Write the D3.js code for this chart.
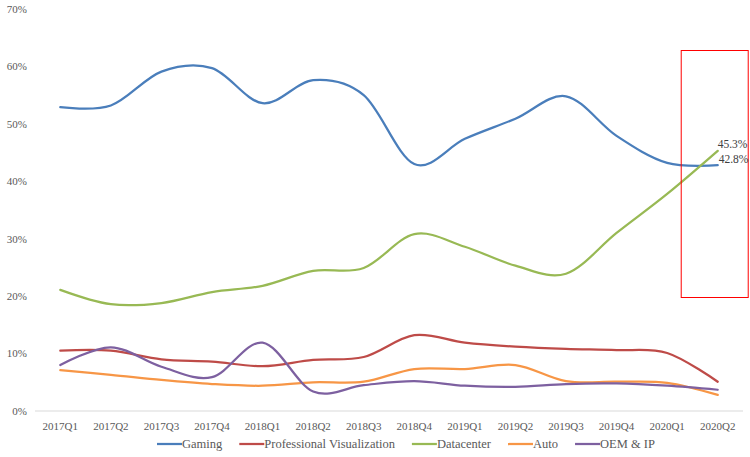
<!DOCTYPE html>
<html>
<head>
<meta charset="utf-8">
<script src="https://cdn.jsdelivr.net/npm/d3@7"></script>
<style>
  body { margin: 0; background: #fff; }
  text { font-family: "Liberation Serif", "DejaVu Serif", serif; }
</style>
</head>
<body>
<div id="chart"></div>
<script>
// Chart size
const width = 750;
const height = 457;
const margin = { top: 9, right: 7, bottom: 46, left: 35 };
const font = "'Liberation Serif', 'DejaVu Serif', serif";

// Data (share of revenue, %)
const quarters = ["2017Q1", "2017Q2", "2017Q3", "2017Q4", "2018Q1", "2018Q2", "2018Q3",
    "2018Q4", "2019Q1", "2019Q2", "2019Q3", "2019Q4", "2020Q1", "2020Q2"];
const gaming = [52.9, 53.2, 59.1, 59.7, 53.6, 57.6, 55.0, 43.0, 47.4, 50.9, 54.8, 47.9, 43.2, 42.8];
const proViz = [10.5, 10.5, 9.0, 8.6, 7.8, 8.9, 9.4, 13.2, 11.9, 11.2, 10.8, 10.6, 10.1, 5.1];
const datacenter = [21.1, 18.6, 18.8, 20.7, 21.8, 24.4, 24.9, 30.8, 28.6, 25.3, 23.9, 31.0, 37.8, 45.3];
const auto = [7.1, 6.3, 5.4, 4.7, 4.4, 5.0, 5.1, 7.3, 7.3, 8.0, 5.2, 5.1, 4.9, 2.8];
const oem = [8.0, 11.1, 7.7, 5.9, 11.9, 3.4, 4.5, 5.2, 4.4, 4.2, 4.7, 4.8, 4.4, 3.7];
const yTicks = [0, 10, 20, 30, 40, 50, 60, 70];

const series = [
    { name: "Gaming", values: gaming, color: "#4A7EBB" },
    { name: "Professional Visualization", values: proViz, color: "#BE4B48" },
    { name: "Datacenter", values: datacenter, color: "#98B954" },
    { name: "Auto", values: auto, color: "#F79646" },
    { name: "OEM & IP", values: oem, color: "#7D60A0" }
];

const svg = d3.select("#chart")
    .append("svg")
    .attr("width", width)
    .attr("height", height)
    .attr("font-family", font);

const x = d3.scaleBand()
    .domain(quarters)
    .range([margin.left, width - margin.right]);

const y = d3.scaleLinear()
    .domain([0, 70])
    .range([height - margin.bottom, margin.top]);

// Y axis labels (no axis line, no grid)
svg.append("g")
    .selectAll("text")
    .data(yTicks)
    .join("text")
    .attr("x", 27)
    .attr("y", d => y(d))
    .attr("dy", "0.35em")
    .attr("text-anchor", "end")
    .attr("font-family", font)
    .attr("font-size", "11px")
    .attr("fill", "#595959")
    .text(d => d + "%");

// X axis baseline
svg.append("line")
    .attr("x1", margin.left)
    .attr("x2", width - margin.right)
    .attr("y1", y(0))
    .attr("y2", y(0))
    .attr("stroke", "#D9D9D9")
    .attr("stroke-width", 1);

// X axis labels
svg.append("g")
    .selectAll("text")
    .data(quarters)
    .join("text")
    .attr("x", d => x(d) + x.bandwidth() / 2)
    .attr("y", y(0) + 19)
    .attr("text-anchor", "middle")
    .attr("font-family", font)
    .attr("font-size", "11px")
    .attr("fill", "#595959")
    .text(d => d);

// Smoothed lines like Excel
const line = d3.line()
    .x((d, i) => x(quarters[i]) + x.bandwidth() / 2)
    .y(d => y(d))
    .curve(d3.curveCardinal.tension(0));

svg.append("g")
    .selectAll("path")
    .data(series)
    .join("path")
    .attr("d", d => line(d.values))
    .attr("fill", "none")
    .attr("stroke", d => d.color)
    .attr("stroke-width", 2.25)
    .attr("stroke-linecap", "round");

// Highlight box round the last quarter
const last = quarters[quarters.length - 1];
const cx = x(last) + x.bandwidth() / 2;
svg.append("rect")
    .attr("x", cx - 36.5)
    .attr("y", 50.5)
    .attr("width", 67)
    .attr("height", 247)
    .attr("fill", "none")
    .attr("stroke", "#FF0000")
    .attr("stroke-width", 1);

// Data labels on the last point
const n = quarters.length - 1;
svg.append("text")
    .attr("x", cx)
    .attr("y", y(datacenter[n]) - 3)
    .attr("font-family", font)
    .attr("font-size", "11.5px")
    .attr("fill", "#404040")
    .text(datacenter[n].toFixed(1) + "%");

svg.append("text")
    .attr("x", cx + 1)
    .attr("y", y(gaming[n]) - 2)
    .attr("font-family", font)
    .attr("font-size", "11.5px")
    .attr("fill", "#404040")
    .text(gaming[n].toFixed(1) + "%");

// Legend
const legend = svg.append("g");
let lx = 157;
series.forEach(s => {
    legend.append("line")
        .attr("x1", lx)
        .attr("x2", lx + 25)
        .attr("y1", 444)
        .attr("y2", 444)
        .attr("stroke", s.color)
        .attr("stroke-width", 2.25);
    const t = legend.append("text")
        .attr("x", lx + 25)
        .attr("y", 444)
        .attr("dy", "0.35em")
        .attr("font-family", font)
        .attr("font-size", "12.5px")
        .attr("fill", "#595959")
        .text(s.name);
    lx += 25 + t.node().getComputedTextLength() + 17;
});
</script>
</body>
</html>
